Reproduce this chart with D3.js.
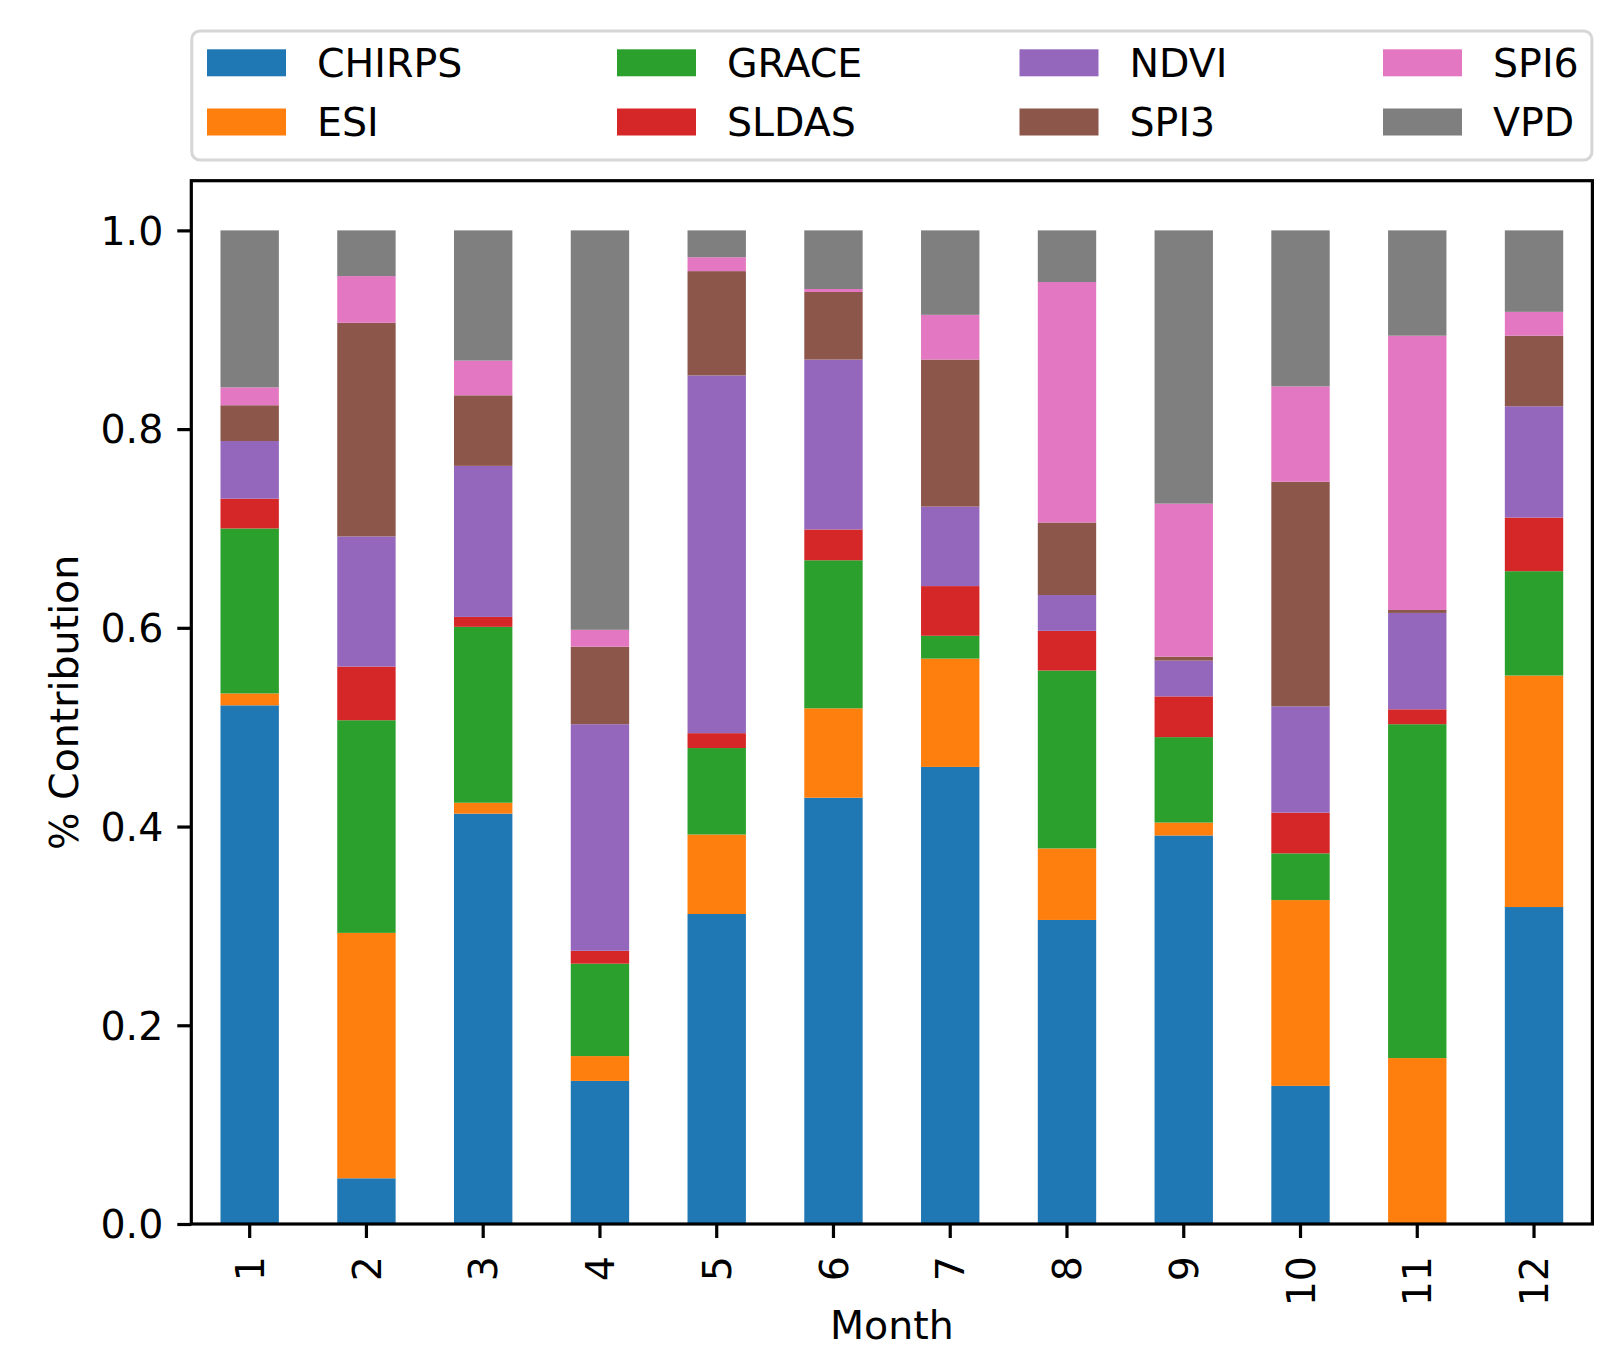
<!DOCTYPE html>
<html>
<head>
<meta charset="utf-8">
<script src="https://cdn.jsdelivr.net/npm/d3@7"></script>
<style>
  html, body { margin: 0; padding: 0; background: #fff; }
  svg { display: block; }
  text { font-family: "DejaVu Sans", sans-serif; fill: #000; }
</style>
</head>
<body>
<svg id="chart" width="1613" height="1349"></svg>
<script>
// ---------------- data ----------------
const months = ["1","2","3","4","5","6","7","8","9","10","11","12"];
const seriesNames = ["CHIRPS","ESI","GRACE","SLDAS","NDVI","SPI3","SPI6","VPD"];
const CHIRPS = [0.522, 0.046, 0.413, 0.144, 0.312, 0.429, 0.460, 0.306, 0.391, 0.139, 0.000, 0.319];
const ESI    = [0.012, 0.247, 0.011, 0.025, 0.080, 0.090, 0.109, 0.072, 0.013, 0.187, 0.167, 0.233];
const GRACE  = [0.166, 0.214, 0.177, 0.093, 0.087, 0.149, 0.023, 0.179, 0.086, 0.047, 0.336, 0.105];
const SLDAS  = [0.030, 0.054, 0.010, 0.013, 0.015, 0.031, 0.050, 0.040, 0.041, 0.041, 0.015, 0.054];
const NDVI   = [0.058, 0.131, 0.152, 0.228, 0.360, 0.171, 0.080, 0.036, 0.036, 0.107, 0.097, 0.112];
const SPI3   = [0.036, 0.215, 0.071, 0.078, 0.105, 0.068, 0.148, 0.073, 0.004, 0.226, 0.003, 0.071];
const SPI6   = [0.018, 0.047, 0.035, 0.017, 0.014, 0.003, 0.045, 0.242, 0.154, 0.096, 0.276, 0.024];
const VPD    = [0.158, 0.046, 0.131, 0.402, 0.027, 0.059, 0.085, 0.052, 0.275, 0.157, 0.106, 0.082];
const yTicks = [0.0, 0.2, 0.4, 0.6, 0.8, 1.0];
const xLabel = "Month";
const yLabel = "% Contribution";
const colors = ["#1f77b4","#ff7f0e","#2ca02c","#d62728","#9467bd","#8c564b","#e377c2","#7f7f7f"];

// ---------------- layout ----------------
const FS = 39.5;               // font size px (10pt)
const PT = 4;                  // px per point
const axL = 191.3, axR = 1592.4, axT = 180.7, axB = 1224;

const seriesValues = [CHIRPS, ESI, GRACE, SLDAS, NDVI, SPI3, SPI6, VPD];
const table = months.map((m, i) => {
  const row = { month: m };
  seriesNames.forEach((s, k) => row[s] = seriesValues[k][i]);
  return row;
});

const svg = d3.select("#chart");

const x = d3.scaleBand().domain(months).range([axL, axR])
  .paddingInner(0.5).paddingOuter(0.25).align(0.5);
const y = d3.scaleLinear().domain([0, 1.05]).range([axB, axT]);
const color = d3.scaleOrdinal().domain(seriesNames).range(colors);

const stacked = d3.stack().keys(seriesNames)(table);

// bars
svg.append("g").selectAll("g")
  .data(stacked).join("g")
  .attr("fill", d => color(d.key))
  .selectAll("rect")
  .data(d => d).join("rect")
  .attr("x", d => x(d.data.month))
  .attr("width", x.bandwidth())
  .attr("y", d => y(d[1]))
  .attr("height", d => Math.max(0, y(d[0]) - y(d[1])));

// y axis
const yAxis = svg.append("g")
  .attr("transform", `translate(${axL},0)`)
  .call(d3.axisLeft(y).tickValues(yTicks).tickFormat(d3.format(".1f"))
    .tickSize(3.5 * PT).tickPadding(3.5 * PT));
yAxis.select(".domain").remove();
yAxis.selectAll(".tick line").attr("stroke", "#000").attr("stroke-width", 0.8 * PT);
yAxis.selectAll(".tick text").attr("font-size", FS).attr("dy", "0.35em")
  .style("font-family", "DejaVu Sans");

// x axis
const xAxis = svg.append("g")
  .attr("transform", `translate(0,${axB})`)
  .call(d3.axisBottom(x).tickSize(3.5 * PT).tickPadding(3.5 * PT));
xAxis.select(".domain").remove();
xAxis.selectAll(".tick line").attr("stroke", "#000").attr("stroke-width", 0.8 * PT);
xAxis.selectAll(".tick text")
  .attr("font-size", FS)
  .style("font-family", "DejaVu Sans")
  .attr("transform", "rotate(-90)")
  .attr("text-anchor", "end")
  .attr("x", -32)
  .attr("y", 0)
  .attr("dy", "0.36em");

// frame
svg.append("rect")
  .attr("x", axL).attr("y", axT)
  .attr("width", axR - axL).attr("height", axB - axT)
  .attr("fill", "none").attr("stroke", "#000").attr("stroke-width", 0.8 * PT);

// axis labels
svg.append("text")
  .attr("x", (axL + axR) / 2).attr("y", 1339)
  .attr("text-anchor", "middle").attr("font-size", FS)
  .text(xLabel);
svg.append("text")
  .attr("transform", `translate(77.5,${(axT + axB) / 2}) rotate(-90)`)
  .attr("text-anchor", "middle").attr("font-size", FS)
  .text(yLabel);

// legend (4 columns, expanded over axes width)
const legend = svg.append("g");
legend.append("rect")
  .attr("x", axL + 0.5).attr("y", 31)
  .attr("width", axR - axL - 1).attr("height", 129)
  .attr("rx", 8).attr("ry", 8)
  .attr("fill", "#fff").attr("stroke", "#d6d6d6").attr("stroke-width", 3);
const colX = [207, 617, 1019.5, 1383];
const rowC = [62.8, 122];
const swW = 79, swH = 27, gap = 31;
seriesNames.forEach((s, k) => {
  const col = Math.floor(k / 2), row = k % 2;
  const g = legend.append("g");
  g.append("rect")
    .attr("x", colX[col]).attr("y", rowC[row] - swH / 2)
    .attr("width", swW).attr("height", swH)
    .attr("fill", color(s));
  g.append("text")
    .attr("x", colX[col] + swW + gap)
    .attr("y", rowC[row] + 0.355 * FS)
    .attr("font-size", FS)
    .text(s);
});
</script>
</body>
</html>
